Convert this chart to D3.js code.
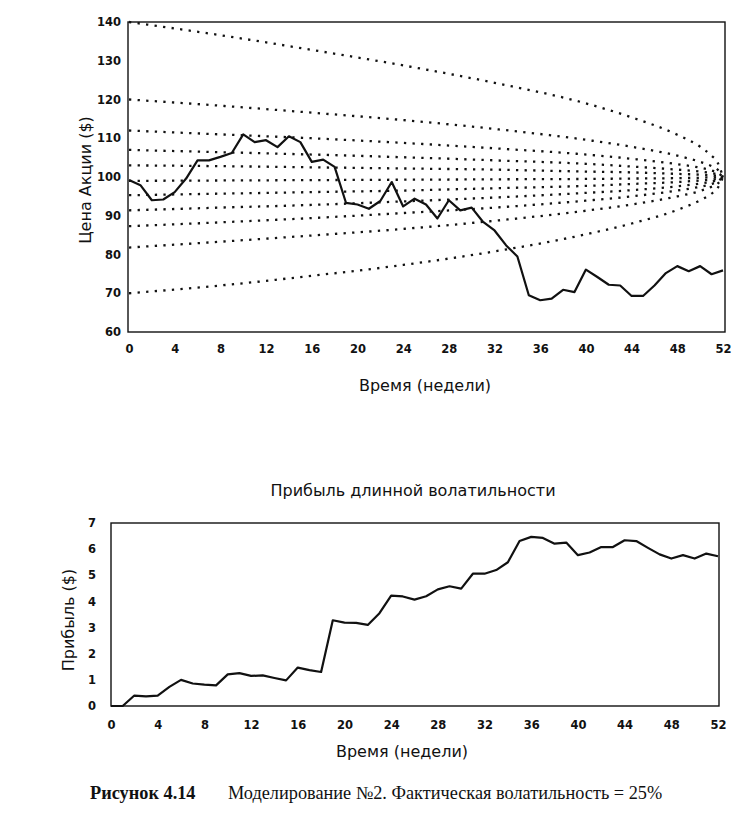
<!DOCTYPE html>
<html><head><meta charset="utf-8">
<script src="https://cdn.jsdelivr.net/npm/d3@7"></script>
<style>
html,body{margin:0;padding:0;background:#fff;}
svg{display:block;}
.tick text{font-family:"DejaVu Sans",sans-serif;font-weight:bold;font-size:11.5px;fill:#111;}
.lbl{font-family:"DejaVu Sans",sans-serif;font-size:16px;fill:#111;}
.cap{font-family:"Liberation Serif","Times New Roman",serif;font-size:18.3px;fill:#111;}
</style></head><body>
<svg id="chart" width="754" height="816"></svg>
<script>
// ---------- data ----------
const weeks = d3.range(0, 53);
const xTickLabels = [0,4,8,12,16,20,24,28,32,36,40,44,48,52];
const priceTicks = [60,70,80,90,100,110,120,130,140];
const profitTicks = [0,1,2,3,4,5,6,7];

const priceValues = [99.2,97.9,94.0,94.2,96.1,99.6,104.3,104.3,105.2,106.2,
  111.0,109.0,109.5,107.7,110.5,109.0,103.9,104.5,102.6,93.3,
  92.9,91.8,93.8,98.7,92.4,94.4,92.9,89.3,94.0,91.4,
  92.1,88.4,86.2,82.4,79.5,69.5,68.2,68.6,70.9,70.3,
  76.1,74.2,72.2,72.0,69.3,69.3,72.0,75.2,77.0,75.7,
  77.0,74.9,75.9];

const profitValues = [0,0,0.40,0.37,0.40,0.73,1.00,0.86,0.82,0.79,
  1.21,1.26,1.15,1.17,1.07,0.98,1.47,1.37,1.30,3.28,
  3.19,3.18,3.10,3.55,4.22,4.19,4.07,4.20,4.46,4.58,
  4.49,5.06,5.06,5.20,5.50,6.31,6.47,6.43,6.21,6.25,
  5.77,5.87,6.08,6.08,6.34,6.31,6.05,5.80,5.64,5.77,
  5.64,5.83,5.73];

const coneWeeks = [0,8,16,24,32,40,44,48,50,51,51.5,52];
const cone140 = [140,136.6,132.8,128.8,124.3,119.0,115.4,110.9,107.8,105.5,103.9,100];
const cone120 = [120,118.4,116.6,114.7,112.4,109.6,107.8,105.5,103.9,102.8,102.0,100];
const cone112 = [112,111.0,110.0,108.8,107.4,105.8,104.7,103.3,102.4,101.7,101.2,100];
const cone107 = [107,106.4,105.8,105.1,104.3,103.4,102.7,101.9,101.4,101.0,100.7,100];
const cone103 = [103,102.8,102.5,102.2,101.9,101.4,101.2,100.8,100.6,100.4,100.3,100];
const cone99  = [99,99.1,99.2,99.3,99.4,99.5,99.6,99.7,99.8,99.9,99.9,100];
const cone95  = [95.3,95.7,96.1,96.5,97.1,97.7,98.2,98.7,99.1,99.3,99.5,100];
const cone91  = [91.4,92.1,92.8,93.7,94.7,95.9,96.6,97.6,98.3,98.8,99.2,100];
const cone87  = [87.3,88.3,89.4,90.7,92.1,93.9,95.0,96.5,97.5,98.2,98.8,100];
const cone82  = [81.8,83.3,84.9,86.6,88.7,91.3,92.9,95.0,96.4,97.5,98.2,100];
const cone70  = [70,72.0,74.5,77.3,80.8,85.2,88.0,91.5,94.0,95.7,97.0,100];
const cones = [cone140,cone120,cone112,cone107,cone103,cone99,cone95,cone91,cone87,cone82,cone70];

const titleBottom = "Прибыль длинной волатильности";
const xTitle = "Время (недели)";
const yTitleTop = "Цена Акции ($)";
const yTitleBottom = "Прибыль ($)";

// ---------- drawing ----------
const svg = d3.select("#chart");

function frame(g, x0, x1, y0, y1){
  g.append("rect").attr("x",x0).attr("y",y0).attr("width",x1-x0).attr("height",y1-y0)
   .attr("fill","none").attr("stroke","#111").attr("stroke-width",1.4);
}

// top chart
const T = {l:128, r:725, t:22, b:332};
const xT = d3.scaleLinear().domain([0,52]).range([129,723]);
const yT = d3.scaleLinear().domain([60,140]).range([T.b,T.t]);
const gT = svg.append("g");

const coneLine = d3.line().x((d,i)=>xT(coneWeeks[i])).y(d=>yT(d)).curve(d3.curveMonotoneX);
gT.selectAll("path.cone").data(cones).enter().append("path")
  .attr("class","cone").attr("d",coneLine)
  .attr("fill","none").attr("stroke","#111").attr("stroke-width",2.3)
  .attr("stroke-dasharray","2.3,6.3");

gT.append("path").datum(priceValues)
  .attr("d", d3.line().x((d,i)=>xT(weeks[i])).y(d=>yT(d)))
  .attr("fill","none").attr("stroke","#111").attr("stroke-width",2.2).attr("stroke-linejoin","round");

frame(gT, T.l, T.r, T.t, T.b);

const axYT = gT.append("g").attr("transform",`translate(${T.l},0)`)
  .call(d3.axisLeft(yT).tickValues(priceTicks).tickFormat(d3.format("d")).tickSize(0).tickPadding(7));
axYT.select(".domain").remove();
const axXT = gT.append("g").attr("transform",`translate(0,${T.b})`)
  .call(d3.axisBottom(xT).tickValues(xTickLabels).tickFormat(d3.format("d")).tickSize(0).tickPadding(13));
axXT.select(".domain").remove();

gT.append("text").attr("class","lbl").attr("x",425).attr("y",391).attr("text-anchor","middle").text(xTitle);
gT.append("text").attr("class","lbl").attr("transform","translate(91,180) rotate(-90)").attr("text-anchor","middle").text(yTitleTop);

// bottom chart
const B = {l:111, r:719, t:523, b:706};
const xB = d3.scaleLinear().domain([0,52]).range([111,718]);
const yB = d3.scaleLinear().domain([0,7]).range([B.b,B.t]);
const gB = svg.append("g");

gB.append("path").datum(profitValues)
  .attr("d", d3.line().x((d,i)=>xB(weeks[i])).y(d=>yB(d)))
  .attr("fill","none").attr("stroke","#111").attr("stroke-width",2.2).attr("stroke-linejoin","round");

frame(gB, B.l, B.r, B.t, B.b);

const axYB = gB.append("g").attr("transform",`translate(${B.l},0)`)
  .call(d3.axisLeft(yB).tickValues(profitTicks).tickFormat(d3.format("d")).tickSize(0).tickPadding(15));
axYB.select(".domain").remove();
const axXB = gB.append("g").attr("transform",`translate(0,${B.b})`)
  .call(d3.axisBottom(xB).tickValues(xTickLabels).tickFormat(d3.format("d")).tickSize(0).tickPadding(15));
axXB.select(".domain").remove();

gB.append("text").attr("class","lbl").attr("x",413).attr("y",496).attr("text-anchor","middle").text(titleBottom);
gB.append("text").attr("class","lbl").attr("x",402).attr("y",757).attr("text-anchor","middle").text(xTitle);
gB.append("text").attr("class","lbl").attr("transform","translate(74,620) rotate(-90)").attr("text-anchor","middle").text(yTitleBottom);

// caption
svg.append("text").attr("class","cap").attr("x",90).attr("y",799).attr("font-weight","bold").attr("font-size","19px").text("Рисунок 4.14");
svg.append("text").attr("class","cap").attr("x",228).attr("y",799).text("Моделирование №2. Фактическая волатильность = 25%");
</script>
</body></html>
